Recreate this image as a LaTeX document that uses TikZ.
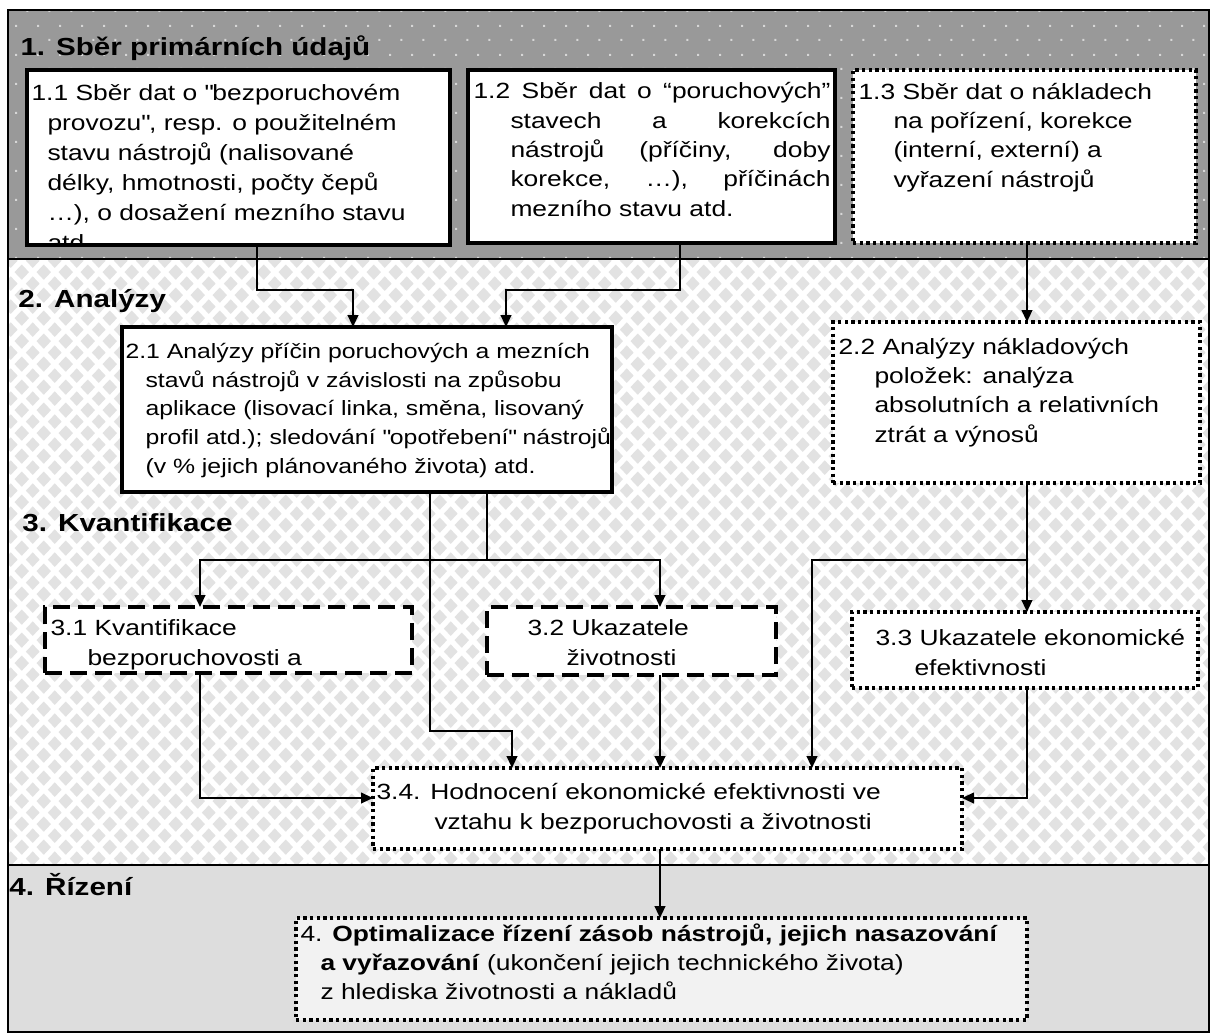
\documentclass[tikz,border=0pt]{standalone}
\usepackage{fontspec}
\setmainfont{Liberation Sans}[FakeStretch=1.2]
\usetikzlibrary{arrows.meta,patterns}

\definecolor{bandone}{RGB}{153,153,153}
\definecolor{dotlight}{RGB}{215,215,215}
\definecolor{diamondgray}{RGB}{226,226,226}
\definecolor{bandfour}{RGB}{221,221,221}
\definecolor{boxfour}{RGB}{242,242,242}

% one diamond of the background texture
\newcommand{\patdia}[2]{%
  \pgfpathmoveto{\pgfpoint{#1}{#2-5.6pt}}%
  \pgfpathlineto{\pgfpoint{#1+5.2pt}{#2}}%
  \pgfpathlineto{\pgfpoint{#1}{#2+5.6pt}}%
  \pgfpathlineto{\pgfpoint{#1-5.2pt}{#2}}%
  \pgfpathclose}
\pgfdeclarepatternformonly{diamondgrid}{\pgfqpoint{0pt}{0pt}}{\pgfqpoint{16.3pt}{17.5pt}}{\pgfqpoint{16.3pt}{17.5pt}}{%
  \patdia{8.15pt}{8.75pt}\patdia{0pt}{0pt}\patdia{16.3pt}{0pt}\patdia{0pt}{17.5pt}\patdia{16.3pt}{17.5pt}%
  \pgfusepath{fill}}
\pgfdeclarepatternformonly{dotgrid}{\pgfqpoint{0pt}{0pt}}{\pgfqpoint{16.3pt}{21.75pt}}{\pgfqpoint{16.3pt}{21.75pt}}{%
  \pgfpathrectangle{\pgfqpoint{3.3pt}{4.7pt}}{\pgfqpoint{1.5pt}{1.5pt}}%
  \pgfpathrectangle{\pgfqpoint{11.45pt}{15.6pt}}{\pgfqpoint{1.5pt}{1.5pt}}%
  \pgfusepath{fill}}

\newcommand{\sq}{\textquotedbl}

\tikzset{every picture/.style={line width=0.75pt},
  solidbox/.style={draw, fill=white, line width=3pt, inner sep=0pt, outer sep=0pt, anchor=north west},
  dashbox/.style={solidbox, dash pattern=on 12.75pt off 6pt},
  dotbox/.style={solidbox, line width=2.5pt, dash pattern=on 2.5pt off 2.5pt},
  boxtext/.style={anchor=base west, inner sep=0pt, align=left, font=\fontsize{16.5pt}{22pt}\selectfont},
  headtext/.style={anchor=base west, inner sep=0pt, font=\fontsize{18.5pt}{22pt}\selectfont\bfseries},
  link/.style={line width=1.5pt},
  conn/.style={link, -{Triangle[length=9pt,width=8pt]}}
}

\begin{document}
\begin{tikzpicture}[x=0.75pt,y=0.75pt,yscale=-1,xscale=1]
\useasboundingbox (0,0) rectangle (1211,1033);

%Shape: Bands
\path [fill=bandone] (8,10) rectangle (1209,259);
\path [pattern=dotgrid, pattern color=dotlight] (8,10) rectangle (1209,259);
\path [fill=white] (8,259) rectangle (1209,865);
\path [pattern=diamondgrid, pattern color=diamondgray] (8,259) rectangle (1209,865);
\path [fill=bandfour] (8,865) rectangle (1209,1032);
\draw [line width=1.5pt] (8,10) rectangle (1209,1032);
\draw [line width=1.5pt] (8,259) -- (1209,259) (8,865) -- (1209,865);

% Text Node
\node (h1) [headtext] at (20,55) {1. Sběr primárních údajů};
% Text Node
\node (h2) [headtext] at (18,307) {2. Analýzy};
% Text Node
\node (h3) [headtext] at (22,531) {3. Kvantifikace};
% Text Node
\node (h4) [headtext] at (9,895) {4. Řízení};

% text nodes sit on the baseline of their last line

%Shape: Rectangle
\node (b11) [solidbox, minimum width=317.25pt, minimum height=131.25pt] at (27,70) {};
\begin{scope}
\clip (27,70) rectangle (450,243);
% Text Node
\node (t11) [boxtext, font=\fontsize{16.5pt}{22.5pt}\selectfont] at (31,250) {1.1 Sběr dat o \sq bezporuchovém\\
  \hspace*{12pt}provozu\sq, resp. o použitelném\\
  \hspace*{12pt}stavu nástrojů (nalisované\\
  \hspace*{12pt}délky, hmotnosti, počty čepů\\
  \hspace*{12pt}…), o dosažení mezního stavu\\
  \hspace*{12pt}atd.};
\end{scope}

%Shape: Rectangle
\node (b12) [solidbox, minimum width=275.25pt, minimum height=129.75pt] at (468,70) {};
% Text Node
\node (t12) [boxtext] at (473,216.3) {\makebox[267.75pt][s]{1.2 Sběr dat o “poruchových”}\\
  \hspace*{27.75pt}\makebox[240pt][s]{stavech a korekcích}\\
  \hspace*{27.75pt}\makebox[240pt][s]{nástrojů (příčiny, doby}\\
  \hspace*{27.75pt}\makebox[240pt][s]{korekce, …), příčinách}\\
  \hspace*{27.75pt}mezního stavu atd.};

%Shape: Rectangle
\node (b13) [dotbox, minimum width=257.25pt, minimum height=129.75pt] at (853,70) {};
% Text Node
\node (t13) [boxtext] at (858,187) {1.3 Sběr dat o nákladech\\
  \hspace*{26.25pt}na pořízení, korekce\\
  \hspace*{26.25pt}(interní, externí) a\\
  \hspace*{26.25pt}vyřazení nástrojů};

%Shape: Rectangle
\node (b21) [solidbox, minimum width=367.5pt, minimum height=123.75pt] at (122,327) {};
% Text Node
\node (t21) [boxtext, font=\fontsize{15.5pt}{21.4pt}\selectfont] at (125,473) {2.1 Analýzy příčin poruchových a mezních\\
  \hspace*{15pt}stavů nástrojů v závislosti na způsobu\\
  \hspace*{15pt}aplikace (lisovací linka, směna, lisovaný\\
  \hspace*{15pt}profil atd.); sledování \sq opotřebení\sq{} nástrojů\\
  \hspace*{15pt}(v \% jejich plánovaného života) atd.};

%Shape: Rectangle
\node (b22) [dotbox, minimum width=275.25pt, minimum height=120.75pt] at (833,322) {};
% Text Node
\node (t22) [boxtext] at (838,442) {2.2 Analýzy nákladových\\
  \hspace*{27pt}položek: analýza\\
  \hspace*{27pt}absolutních a relativních\\
  \hspace*{27pt}ztrát a výnosů};

%Shape: Rectangle
\node (b31) [dashbox, minimum width=275.25pt, minimum height=49.5pt] at (45,607) {};
% Text Node
\node (t31) [boxtext] at (50,665.3) {3.1 Kvantifikace\\
  \hspace*{27.75pt}bezporuchovosti a};

%Shape: Rectangle
\node (b32) [dashbox, minimum width=216.75pt, minimum height=51pt] at (487,607) {};
% Text Node
\node (t32) [boxtext] at (527,665.3) {3.2 Ukazatele\\
  \hspace*{29.25pt}životnosti};

%Shape: Rectangle
\node (b33) [dotbox, minimum width=259.5pt, minimum height=57pt] at (852,612) {};
% Text Node
\node (t33) [boxtext] at (875,675) {3.3 Ukazatele ekonomické\\
  \hspace*{29.25pt}efektivnosti};

%Shape: Rectangle
\node (b34) [dotbox, minimum width=441.75pt, minimum height=60.75pt] at (373,768) {};
% Text Node
\node (t34) [boxtext] at (376,829.3) {3.4. Hodnocení ekonomické efektivnosti ve\\
  \hspace*{43.5pt}vztahu k bezporuchovosti a životnosti};

%Shape: Rectangle
\node (b4) [dotbox, fill=boxfour, minimum width=548.25pt, minimum height=76.5pt] at (296,918) {};
% Text Node
\node (t4) [boxtext] at (300,999.7) {4. \textbf{Optimalizace řízení zásob nástrojů, jejich nasazování}\\
  \hspace*{15pt}\textbf{a vyřazování} (ukončení jejich technického života)\\
  \hspace*{15pt}z hlediska životnosti a nákladů};

% bends of the connectors
\coordinate (c1) at (257,290);
\coordinate (c2) at (353,290);
\coordinate (c3) at (680,290);
\coordinate (c4) at (506,290);
\coordinate (c5) at (1027,560);
\coordinate (c6) at (812,560);
\coordinate (c7) at (487,560);
\coordinate (c8) at (200,560);
\coordinate (c9) at (660,560);
\coordinate (c10) at (430,731);
\coordinate (c11) at (512,731);
\coordinate (c12) at (200,798);
\coordinate (c13) at (1027,798);

%Straight Lines
\draw [conn] (b11.south -| c1) -- (c1) -- (c2) -- (b21.north -| c2);
\draw [conn] (b12.south -| c3) -- (c3) -- (c4) -- (b21.north -| c4);
\draw [conn] (b13.south -| c5) -- (b22.north -| c5);
\draw [conn] (b22.south -| c5) -- (b33.north -| c5);
\draw [conn] (c5) -- (c6) -- (b34.north -| c6);
\draw [link] (b21.south -| c7) -- (c7);
\draw [conn] (c7) -- (c8) -- (b31.north -| c8);
\draw [conn] (c7) -- (c9) -- (b32.north -| c9);
\draw [conn] (b21.south -| c10) -- (c10) -- (c11) -- (b34.north -| c11);
\draw [conn] (b32.south -| c9) -- (b34.north -| c9);
\draw [conn] (b31.south -| c12) -- (c12) -- (b34.west |- c12);
\draw [conn] (b33.south -| c13) -- (c13) -- (b34.east |- c13);
\draw [conn] (b34.south -| c9) -- (b4.north -| c9);

\end{tikzpicture}
\end{document}
